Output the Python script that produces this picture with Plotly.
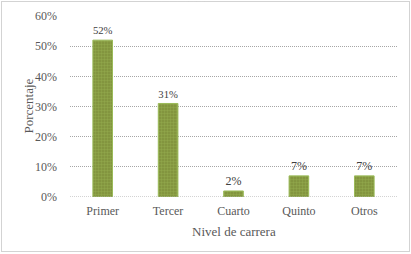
import plotly.graph_objects as go

categories = ["Primer", "Tercer", "Cuarto", "Quinto", "Otros"]
values = [0.52, 0.31, 0.02, 0.07, 0.07]
labels = ["52%", "31%", "2%", "7%", "7%"]
y_ticks = [0, 0.1, 0.2, 0.3, 0.4, 0.5, 0.6]
y_tick_text = ["0%", "10%", "20%", "30%", "40%", "50%", "60%"]

W, H = 411, 254
ml, mr, mt, mb = 70, 14, 16, 57
font = "Liberation Serif, Times New Roman, serif"
gray = "#595959"
line_gray = "#A6A6A6"

fig = go.Figure(go.Bar(
    x=categories, y=values, text=labels, textposition="outside",
    textfont=dict(family=font, size=12, color="#404040"),
    marker=dict(color="#8C9A45", line=dict(color="#9BBB59", width=1),
                pattern=dict(shape=".", fgcolor="#A0BC5A", bgcolor="#7F8F3A", size=3, solidity=0.5)),
    width=0.3, cliponaxis=False,
))

px_w = W - ml - mr
px_h = H - mt - mb
fig.add_shape(type="rect", xref="paper", yref="paper",
              x0=-(ml - 1.5) / px_w, x1=1 + (mr - 1.5) / px_w,
              y0=-(mb - 2.5) / px_h, y1=1 + (mt - 1.5) / px_h,
              line=dict(color=line_gray, width=1, dash="1px,1px"), layer="below")

fig.add_annotation(text="Porcentaje", xref="paper", yref="paper",
                   x=(28 - ml) / px_w, y=0.5, textangle=-90, showarrow=False,
                   xanchor="center", yanchor="middle",
                   font=dict(family=font, size=13, color=gray))
fig.add_annotation(text="Nivel de carrera", xref="paper", yref="paper",
                   x=0.5, y=-(231 - (H - mb)) / px_h, showarrow=False,
                   xanchor="center", yanchor="middle",
                   font=dict(family=font, size=13, color=gray))

fig.update_layout(
    width=W, height=H, margin=dict(l=ml, r=mr, t=mt, b=mb, autoexpand=False),
    paper_bgcolor="white", plot_bgcolor="white", showlegend=False,
    font=dict(family=font, color=gray, size=12),
    xaxis=dict(tickfont=dict(size=12, color=gray), showline=False, ticks="", showgrid=False,
               automargin=False, ticklabelstandoff=5),
    yaxis=dict(range=[0, 0.6], tickvals=y_ticks, ticktext=y_tick_text,
               tickfont=dict(size=12, color=gray), showgrid=True, gridcolor=line_gray,
               griddash="1px,1px", gridwidth=1, zeroline=False,
               showline=False, ticks="", ticklabelstandoff=12, automargin=False),
)
fig.add_hline(y=0, line=dict(color=line_gray, width=1, dash="1px,1px"))
fig.write_html("out.html", config={"displayModeBar": False},
               post_script="document.body.style.margin='0';document.body.style.padding='0';document.body.style.overflow='hidden';")
